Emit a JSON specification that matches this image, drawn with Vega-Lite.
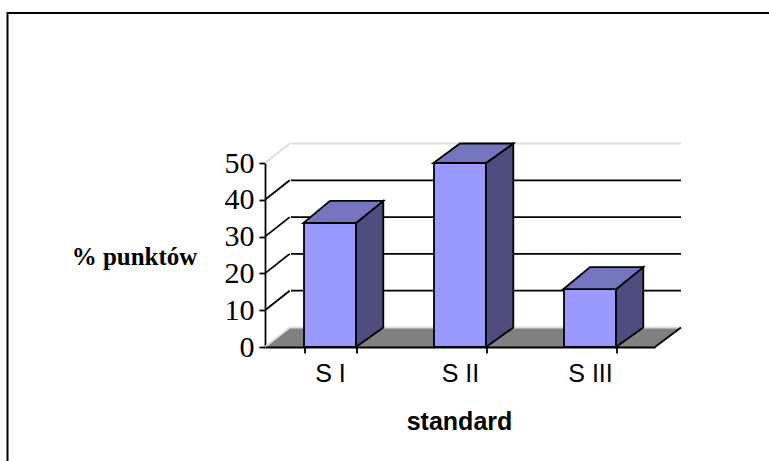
{
"$schema":"https://vega.github.io/schema/vega-lite/v6.json",
"width":763,"height":449,
"autosize":{"type":"none"},
"padding":{"left":7.5,"top":13,"right":-1.5,"bottom":-1},
"background":"white",
"config":{"view":{"stroke":"#000","strokeWidth":2,"fill":"white"}},
"datasets":{
"bars":[{"standard":"S I","value":33.7},{"standard":"S II","value":50},{"standard":"S III","value":15.7}],
"grid":[{"level":0},{"level":10},{"level":20},{"level":30},{"level":40},{"level":50}],
"floor":[{"pos":0,"low":0,"high":0},{"pos":0.2,"low":0,"high":5.3},{"pos":3,"low":0,"high":5.3},{"pos":3.2,"low":5.3,"high":5.3}]
},
"resolve":{"scale":{"x":"independent"},"axis":{"x":"independent"}},
"layer":[
{"data":{"name":"floor"},"mark":{"type":"area","orient":"vertical","fill":"#808080","clip":false},
"encoding":{
"x":{"field":"pos","type":"quantitative","scale":{"domain":[0,3],"range":[257.5,647.5],"nice":false,"zero":false},"axis":null},
"y":{"field":"low","type":"quantitative","scale":{"domain":[0,50],"range":[334,150],"nice":false},
"axis":{"orient":"left","offset":-257.5,"values":[0,10,20,30,40,50],"grid":false,"domainColor":"#000","domainWidth":1.8,"tickColor":"#000","tickWidth":1.8,"tickSize":6,"labelFont":"Liberation Serif","labelFontSize":30,"labelColor":"#000","labelPadding":5,"title":"% punktów","titleFont":"Liberation Serif","titleFontSize":25,"titleFontWeight":"bold","titleColor":"#000","titleAngle":0,"titleAlign":"center","titleBaseline":"middle","titleX":-131,"titleY":243}},
"y2":{"field":"high"}}},
{"data":{"name":"grid"},"transform":[{"calculate":"datum.level+5.3","as":"back"}],
"mark":{"type":"rule","strokeWidth":1.8},
"encoding":{
"x":{"datum":0.2,"type":"quantitative","scale":{"domain":[0,3],"range":[257.5,647.5],"nice":false,"zero":false},"axis":null},
"x2":{"datum":3.2},
"y":{"field":"back","type":"quantitative"},
"color":{"condition":{"test":"datum.level==0||datum.level==50","value":"#dddddd"},"value":"#000"}}},
{"data":{"name":"grid"},"transform":[{"calculate":"datum.level+5.3","as":"back"}],
"mark":{"type":"rule","strokeWidth":1.8},
"encoding":{
"x":{"datum":0,"type":"quantitative","scale":{"domain":[0,3],"range":[257.5,647.5],"nice":false,"zero":false},"axis":null},
"x2":{"datum":0.19},
"y":{"field":"level","type":"quantitative"},
"y2":{"field":"back"},
"color":{"condition":{"test":"datum.level==0||datum.level==50","value":"#dddddd"},"value":"#000"}}},
{"data":{"values":[{"edge":"floor"}]},
"mark":{"type":"rule","strokeWidth":1.8,"color":"#000"},
"encoding":{
"x":{"datum":3,"type":"quantitative","scale":{"domain":[0,3],"range":[257.5,647.5],"nice":false,"zero":false},"axis":null},
"x2":{"datum":3.2},
"y":{"datum":0,"type":"quantitative"},
"y2":{"datum":5.3}}},
{"data":{"name":"bars"},
"mark":{"type":"bar","fill":"#9999ff","stroke":"#000","strokeWidth":1.8},
"encoding":{
"x":{"field":"standard","type":"nominal","sort":null,"scale":{"domain":["S I","S II","S III"],"range":[257.5,647.5],"paddingInner":0.6,"paddingOuter":0.3},
"axis":{"orient":"bottom","offset":-115,"tickBand":"extent","labelAngle":0,"domainColor":"#000","domainWidth":1.8,"tickColor":"#000","tickWidth":1.8,"tickSize":6,"labelFont":"Liberation Sans","labelFontSize":25,"labelColor":"#000","labelPadding":8,"title":"standard","titleFont":"Liberation Sans","titleFontSize":25,"titleFontWeight":"bold","titleColor":"#000","titleAlign":"center","titleBaseline":"middle","titleX":451.5,"titleY":74,"zindex":1}},
"y":{"field":"value","type":"quantitative"}}},
{"data":{"name":"bars"},
"transform":[
{"calculate":"indexof(['S I','S II','S III'],datum.standard)","as":"idx"},
{"calculate":"min(datum.value+6,55.3)","as":"backTop"},
{"calculate":"[datum.idx+0.7,datum.idx+0.91]","as":"pos"},
{"calculate":"[0,5.3]","as":"low"},
{"calculate":"[datum.value,datum.backTop]","as":"high"},
{"flatten":["pos","low","high"]}],
"mark":{"type":"area","orient":"vertical","fill":"#4d4d80","stroke":"#000","strokeWidth":1.8},
"encoding":{
"x":{"field":"pos","type":"quantitative","scale":{"domain":[0,3],"range":[257.5,647.5],"nice":false,"zero":false},"axis":null},
"y":{"field":"low","type":"quantitative"},
"y2":{"field":"high"},
"detail":{"field":"standard"}}},
{"data":{"name":"bars"},
"transform":[
{"calculate":"indexof(['S I','S II','S III'],datum.standard)","as":"idx"},
{"calculate":"min(datum.value+6,55.3)","as":"backTop"},
{"calculate":"[datum.idx+0.295,datum.idx+0.5,datum.idx+0.7,datum.idx+0.91]","as":"pos"},
{"calculate":"[datum.value,datum.value,datum.value,datum.backTop]","as":"low"},
{"calculate":"[datum.value,datum.backTop,datum.backTop,datum.backTop]","as":"high"},
{"flatten":["pos","low","high"]}],
"mark":{"type":"area","orient":"vertical","fill":"#7575bf","stroke":"#000","strokeWidth":1.8},
"encoding":{
"x":{"field":"pos","type":"quantitative","scale":{"domain":[0,3],"range":[257.5,647.5],"nice":false,"zero":false},"axis":null},
"y":{"field":"low","type":"quantitative"},
"y2":{"field":"high"},
"detail":{"field":"standard"}}}
]
}
